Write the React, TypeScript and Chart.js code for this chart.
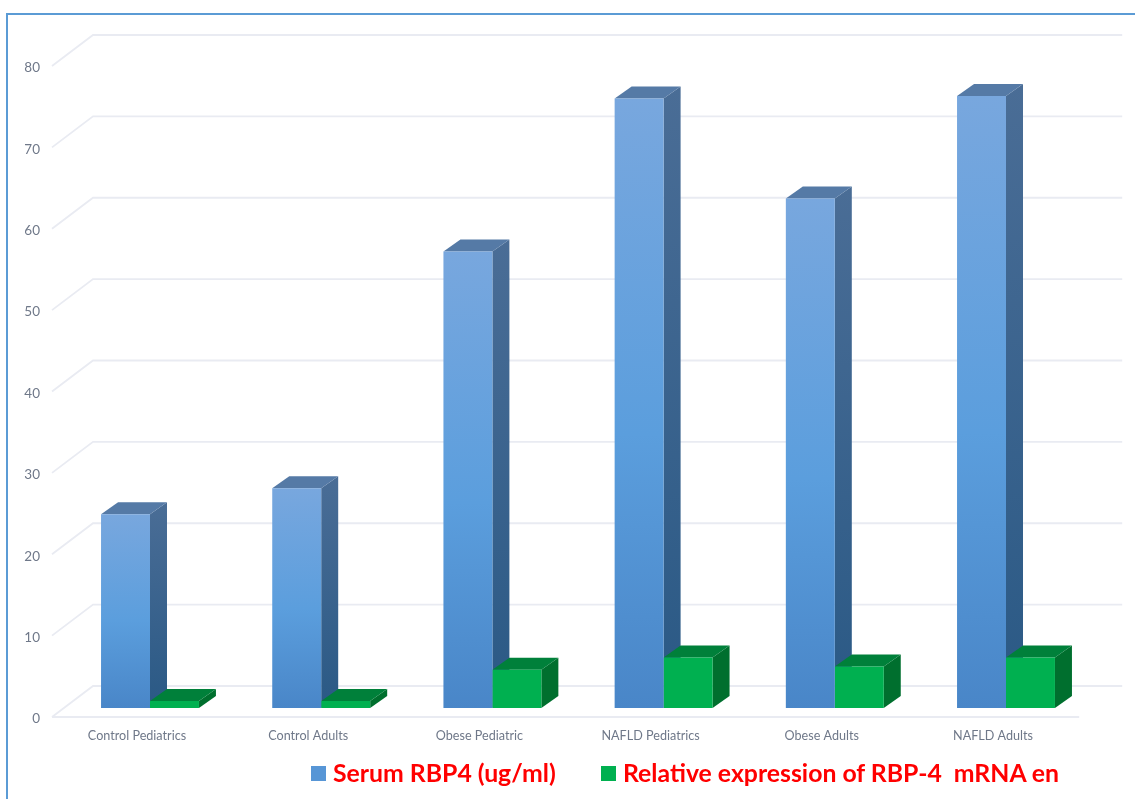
import { useEffect, useRef } from "react";
import { Chart, registerables } from "chart.js";

Chart.register(...registerables);

const categories = [
  "Control Pediatrics",
  "Control Adults",
  "Obese Pediatric",
  "NAFLD Pediatrics",
  "Obese Adults",
  "NAFLD Adults",
];
const serumRbp4 = [23.8, 27, 56.1, 74.9, 62.6, 75.2];
const relativeExpression = [0.85, 0.85, 4.7, 6.2, 5.1, 6.2];
const serumLabel = "Serum RBP4 (ug/ml)";
const expressionLabel = "Relative expression of RBP-4  mRNA en";
const yTicks = [0, 10, 20, 30, 40, 50, 60, 70, 80];

const WIDTH = 1135;
const HEIGHT = 799;
const BAR_DEPTH = { x: 17, y: 12 };
const FLOOR_FRONT = { x: -12.4, y: 9 };
const FLOOR_BACK = { x: 28.6, y: -22 };
const BACK_WALL_OVERHANG = 2;
const GRID_COLOR = "#e9ebf2";
const TICK_COLOR = "#6f7889";
const FONT = "Lato, Carlito, sans-serif";

const serumFaces = {
  front: ["#78a7de", "#5b9edd", "#4986c8"],
  top: "#557aa6",
  side: ["#4a6d96", "#2a5985"],
};
const expressionFaces = {
  front: ["#00b050", "#00b050", "#00b050"],
  top: "#00803a",
  side: ["#006f2e", "#006f2e"],
};

// Light-to-dark vertical shading for the front face of a bar
function frontGradient(faces: typeof serumFaces) {
  return (c: any) => {
    const y = c.chart.scales?.y;
    if (!y || !c.parsed) return faces.front[1];
    const top = y.getPixelForValue(c.parsed.y);
    const bottom = y.getPixelForValue(0);
    if (!Number.isFinite(top) || !Number.isFinite(bottom)) return faces.front[1];
    const g = c.chart.ctx.createLinearGradient(0, top, 0, bottom);
    g.addColorStop(0, faces.front[0]);
    g.addColorStop(0.55, faces.front[1]);
    g.addColorStop(1, faces.front[2]);
    return g;
  };
}

function polygon(ctx: CanvasRenderingContext2D, pts: number[][], fill: string | CanvasGradient) {
  ctx.beginPath();
  pts.forEach(([px, py], i) => (i ? ctx.lineTo(px, py) : ctx.moveTo(px, py)));
  ctx.closePath();
  ctx.fillStyle = fill;
  ctx.fill();
}

// Perspective floor and back wall, then the top and side faces of each bar
const depthPlugin = {
  id: "depth",
  beforeDatasetsDraw(chart: any) {
    const { ctx, chartArea, scales } = chart;
    const y = scales.y;
    ctx.save();
    ctx.strokeStyle = GRID_COLOR;
    ctx.lineWidth = 1.8;
    yTicks.forEach((v) => {
      const py = y.getPixelForValue(v);
      const fx = chartArea.left + FLOOR_FRONT.x;
      const bx = chartArea.left + FLOOR_BACK.x;
      ctx.beginPath();
      ctx.moveTo(fx, py + FLOOR_FRONT.y);
      ctx.lineTo(bx, py + FLOOR_BACK.y);
      ctx.lineTo(chartArea.right + FLOOR_BACK.x + BACK_WALL_OVERHANG, py + FLOOR_BACK.y);
      ctx.stroke();
    });
    ctx.beginPath();
    ctx.moveTo(chartArea.left + FLOOR_FRONT.x, y.getPixelForValue(0) + FLOOR_FRONT.y);
    ctx.lineTo(chartArea.right + FLOOR_FRONT.x, y.getPixelForValue(0) + FLOOR_FRONT.y);
    ctx.stroke();

    [serumFaces, expressionFaces].forEach((faces, di) => {
      chart.getDatasetMeta(di).data.forEach((bar: any) => {
        const l = bar.x - bar.width / 2;
        const r = bar.x + bar.width / 2;
        const { x: dx, y: dy } = BAR_DEPTH;
        const side = ctx.createLinearGradient(0, bar.y - dy, 0, bar.base);
        side.addColorStop(0, faces.side[0]);
        side.addColorStop(1, faces.side[1]);
        polygon(ctx, [[r, bar.y], [r + dx, bar.y - dy], [r + dx, bar.base - dy], [r, bar.base]], side);
        polygon(ctx, [[l, bar.y], [l + dx, bar.y - dy], [r + dx, bar.y - dy], [r, bar.y]], faces.top);
      });
    });
    ctx.restore();
  },
};

const legendItems = [
  { label: serumLabel, color: "#5796d6", left: 311, textLeft: 333 },
  { label: expressionLabel, color: "#00b050", left: 601, textLeft: 623 },
];

export default function App() {
  const canvasRef = useRef<HTMLCanvasElement>(null);

  useEffect(() => {
    const chart = new Chart(canvasRef.current!, {
      type: "bar",
      data: {
        labels: categories,
        datasets: [
          { label: serumLabel, data: serumRbp4, backgroundColor: frontGradient(serumFaces) },
          { label: expressionLabel, data: relativeExpression, backgroundColor: frontGradient(expressionFaces) },
        ],
      },
      options: {
        animation: false,
        responsive: false,
        layout: { padding: { top: 57, right: 43.4, left: 0, bottom: 0 } },
        datasets: { bar: { categoryPercentage: 0.572, barPercentage: 1 } },
        plugins: { legend: { display: false }, tooltip: { enabled: false } },
        scales: {
          x: {
            border: { display: false },
            grid: { display: false, drawTicks: false },
            afterFit: (s: any) => {
              s.height = 91;
            },
            ticks: {
              color: TICK_COLOR,
              font: { family: FONT, size: 12.6 },
              padding: 20,
              labelOffset: -13,
              maxRotation: 0,
              autoSkip: false,
            },
          },
          y: {
            min: 0,
            max: 80,
            border: { display: false },
            grid: { display: false, drawTicks: false },
            afterFit: (s: any) => {
              s.width = 64.4;
            },
            ticks: {
              color: TICK_COLOR,
              font: { family: FONT, size: 13.5 },
              stepSize: 10,
              padding: 24.4,
              labelOffset: 11,
            },
          },
        },
      },
      plugins: [depthPlugin],
    } as any);
    return () => chart.destroy();
  }, []);

  return (
    <div style={{ position: "absolute", left: 0, top: 0, width: WIDTH, height: HEIGHT, background: "#fff", overflow: "hidden" }}>
      <canvas ref={canvasRef} width={WIDTH} height={HEIGHT} style={{ position: "absolute", left: 0, top: 0 }} />
      <div
        style={{
          position: "absolute",
          left: 6,
          top: 13,
          right: 0,
          bottom: 0,
          borderTop: "2px solid #5b9bd5",
          borderLeft: "2px solid #5b9bd5",
        }}
      />
      {legendItems.map((item) => (
        <div key={item.label}>
          <div style={{ position: "absolute", left: item.left, top: 766, width: 15, height: 15, background: item.color }} />
          <div
            style={{
              position: "absolute",
              left: item.textLeft,
              top: 758,
              lineHeight: "30px",
              whiteSpace: "pre",
              font: `bold 24.8px ${FONT}`,
              color: "#ff0000",
            }}
          >
            {item.label}
          </div>
        </div>
      ))}
    </div>
  );
}
